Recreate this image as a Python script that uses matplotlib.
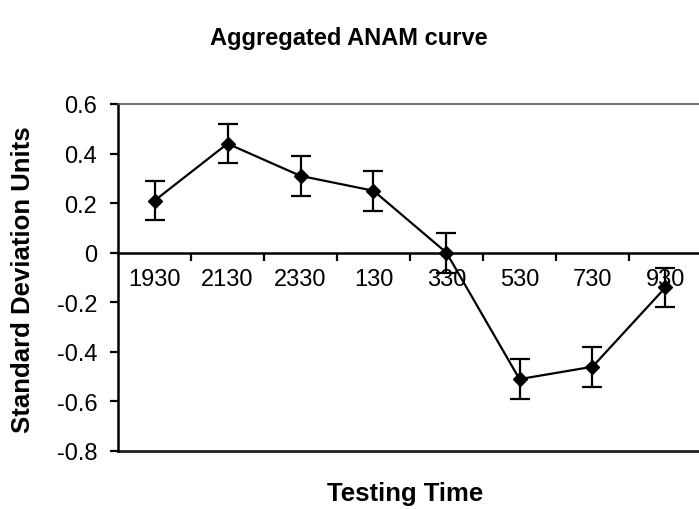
import matplotlib
matplotlib.use("Agg")
import matplotlib.pyplot as plt
import numpy as np

categories = ["1930", "2130", "2330", "130", "330", "530", "730", "930"]
values = [0.21, 0.44, 0.31, 0.25, 0.00, -0.51, -0.46, -0.14]
errors = [0.08, 0.08, 0.08, 0.08, 0.08, 0.08, 0.08, 0.08]
yticks = [0.6, 0.4, 0.2, 0, -0.2, -0.4, -0.6, -0.8]
ytick_labels = ["0.6", "0.4", "0.2", "0", "-0.2", "-0.4", "-0.6", "-0.8"]

plt.rcParams['font.family'] = ['Liberation Sans', 'DejaVu Sans']

W, H = 699, 510
fig = plt.figure(figsize=(W / 100, H / 100), dpi=100)
left, right, top, bottom = 118, 702, 105, 452
ax = fig.add_axes([left / W, 1 - bottom / H, (right - left) / W, (bottom - top) / H])

x = np.arange(len(categories))
ax.errorbar(x, values, yerr=errors, color='black', lw=1.6, marker='D', markersize=7,
            capsize=7, capthick=1.6, elinewidth=1.6, zorder=3)

ax.set_xlim(-0.5, len(categories) - 0.5)
ax.set_ylim(-0.8, 0.6)

# spines
ax.spines['right'].set_visible(False)
ax.spines['top'].set_color('#555555')
ax.spines['top'].set_linewidth(1.2)
ax.spines['top'].set_linestyle((0, (3, 1)))
ax.spines['left'].set_linewidth(1.8)
ax.spines['bottom'].set_position(('data', 0))
ax.spines['bottom'].set_linewidth(1.8)
ax.axhline(-0.8, color='#222222', lw=2.0, clip_on=False, zorder=2)

ax.set_xticks(x)
ax.set_xticklabels(categories, fontsize=17)
ax.set_xticks(x[:-1] + 0.5, minor=True)
ax.tick_params(axis='x', which='major', length=0, pad=11)
ax.tick_params(axis='x', which='minor', length=6, width=1.6, direction='out')

ax.set_yticks(yticks)
ax.set_yticklabels(ytick_labels, fontsize=17)
ax.tick_params(axis='y', length=6, width=1.6, direction='out', pad=9)

fig.text(349 / W, 1 - 38 / H, "Aggregated ANAM curve", ha='center', va='center',
         fontsize=17, fontweight='bold')
fig.text(23 / W, 1 - 280 / H, "Standard Deviation Units", ha='center', va='center',
         rotation=90, fontsize=18.5, fontweight='bold')
fig.text(405 / W, 1 - 494 / H, "Testing Time", ha='center', va='center',
         fontsize=18.5, fontweight='bold')

fig.savefig("out.png", dpi=100)
